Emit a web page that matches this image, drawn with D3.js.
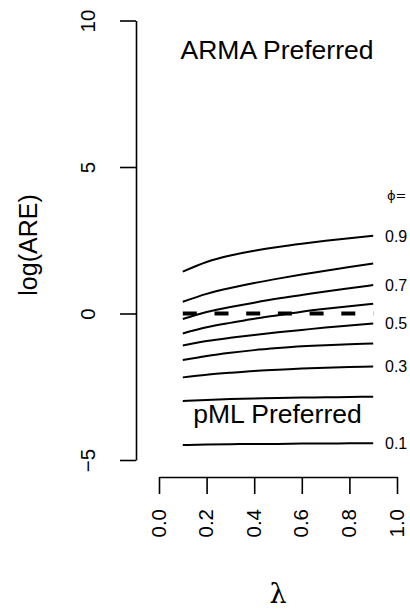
<!DOCTYPE html>
<html lang="en">
<head>
    <meta charset="UTF-8">
    <title>log(ARE) vs lambda</title>
    <script src="https://d3js.org/d3.v7.min.js"></script>
    <style>
        html, body {
            margin: 0;
            padding: 0;
            background: white;
        }
        svg {
            display: block;
            font-family: "Liberation Sans", Arial, sans-serif;
        }
    </style>
</head>
<body>
    <svg id="chart" width="410" height="612"></svg>

    <script>
        // lambda grid the curves are evaluated on
        const lambda = [0.1, 0.2, 0.3, 0.4, 0.5, 0.6, 0.7, 0.8, 0.9];

        // log(ARE) for each phi
        const phi09 = [1.43, 1.76, 1.98, 2.14, 2.27, 2.38, 2.48, 2.57, 2.65];
        const phi08 = [0.40, 0.67, 0.87, 1.04, 1.19, 1.33, 1.46, 1.59, 1.71];
        const phi07 = [-0.19, 0.05, 0.22, 0.37, 0.51, 0.63, 0.75, 0.86, 0.97];
        const phi06 = [-0.68, -0.47, -0.32, -0.18, -0.06, 0.06, 0.16, 0.25, 0.33];
        const phi05 = [-1.09, -0.94, -0.83, -0.73, -0.64, -0.56, -0.48, -0.41, -0.34];
        const phi04 = [-1.59, -1.45, -1.34, -1.25, -1.18, -1.12, -1.08, -1.05, -1.02];
        const phi03 = [-2.18, -2.09, -2.02, -1.96, -1.92, -1.88, -1.85, -1.83, -1.81];
        const phi02 = [-2.99, -2.95, -2.92, -2.90, -2.88, -2.87, -2.86, -2.85, -2.84];
        const phi01 = [-4.49, -4.47, -4.46, -4.45, -4.45, -4.44, -4.44, -4.43, -4.43];

        const curves = [phi09, phi08, phi07, phi06, phi05, phi04, phi03, phi02, phi01];
        const curveLabels = ["0.9", "", "0.7", "", "0.5", "", "0.3", "", "0.1"];

        // reference line at log(ARE) = 0
        const refLine = [0, 0];
        const refLambda = [0.1, 0.9];

        const xTicks = [0, 0.2, 0.4, 0.6, 0.8, 1.0];
        const yTicks = [-5, 0, 5, 10];

        const svg = d3.select("#chart");

        const x = d3.scaleLinear().domain([0, 1]).range([159, 397]);
        const y = d3.scaleLinear().domain([-5, 10]).range([460, 20.5]);

        const line = d3.line()
            .x((d, i) => x(lambda[i]))
            .y(d => y(d))
            .curve(d3.curveNatural);

        // curves
        svg.append("g")
            .selectAll("path")
            .data(curves)
            .enter()
            .append("path")
            .attr("d", line)
            .attr("fill", "none")
            .attr("stroke", "black")
            .attr("stroke-width", 2);

        // dashed zero line
        svg.append("path")
            .datum(refLine)
            .attr("d", d3.line().x((d, i) => x(refLambda[i])).y(d => y(d)))
            .attr("stroke", "black")
            .attr("stroke-width", 4)
            .attr("stroke-dasharray", "14,17.7");

        // right hand labels
        svg.append("g")
            .selectAll("text")
            .data(curves)
            .enter()
            .append("text")
            .attr("x", 385)
            .attr("y", d => y(d[d.length - 1]))
            .attr("dy", "0.36em")
            .attr("font-size", 16)
            .text((d, i) => curveLabels[i]);

        svg.append("text")
            .attr("x", 387)
            .attr("y", 200)
            .attr("font-size", 13)
            .attr("fill", "black")
            .attr("font-family", "DejaVu Sans, sans-serif")
            .text("\u03D5=");

        // y axis
        const yAxis = svg.append("g")
            .attr("transform", `translate(136,0)`)
            .call(d3.axisLeft(y).tickValues(yTicks).tickSize(16).tickSizeOuter(0).tickFormat(d3.format("d")));
        yAxis.selectAll("path, line").attr("stroke-width", 1.6);
        yAxis.selectAll("text")
            .attr("transform", "rotate(-90)")
            .attr("x", 0)
            .attr("y", -41)
            .attr("dy", 0)
            .attr("text-anchor", "middle")
            .attr("font-size", 20.5)
            .attr("font-family", "Liberation Sans, Arial, sans-serif")
            .text(d => d < 0 ? "\u2212" + Math.abs(d) : d);

        // x axis
        const xAxis = svg.append("g")
            .attr("transform", `translate(0,477)`)
            .call(d3.axisBottom(x).tickValues(xTicks).tickSize(17).tickSizeOuter(0).tickFormat(d3.format(".1f")));
        xAxis.selectAll("path, line").attr("stroke-width", 1.6);
        xAxis.selectAll("text")
            .attr("transform", "rotate(-90)")
            .attr("x", -32)
            .attr("y", 6)
            .attr("dy", 0)
            .attr("text-anchor", "end")
            .attr("font-size", 20.5)
            .attr("font-family", "Liberation Sans, Arial, sans-serif");

        // axis titles
        svg.append("text")
            .attr("transform", "translate(37,245) rotate(-90)")
            .attr("text-anchor", "middle")
            .attr("font-size", 25)
            .text("log(ARE)");

        svg.append("text")
            .attr("x", 278)
            .attr("y", 603)
            .attr("text-anchor", "middle")
            .attr("font-size", 27)
            .attr("font-family", "DejaVu Serif, serif")
            .text("\u03BB");

        // region annotations
        svg.append("text")
            .attr("x", 277)
            .attr("y", 59)
            .attr("text-anchor", "middle")
            .attr("font-size", 26.5)
            .text("ARMA Preferred");

        svg.append("text")
            .attr("x", 277.5)
            .attr("y", 423)
            .attr("text-anchor", "middle")
            .attr("font-size", 26.5)
            .text("pML Preferred");
    </script>
</body>
</html>
